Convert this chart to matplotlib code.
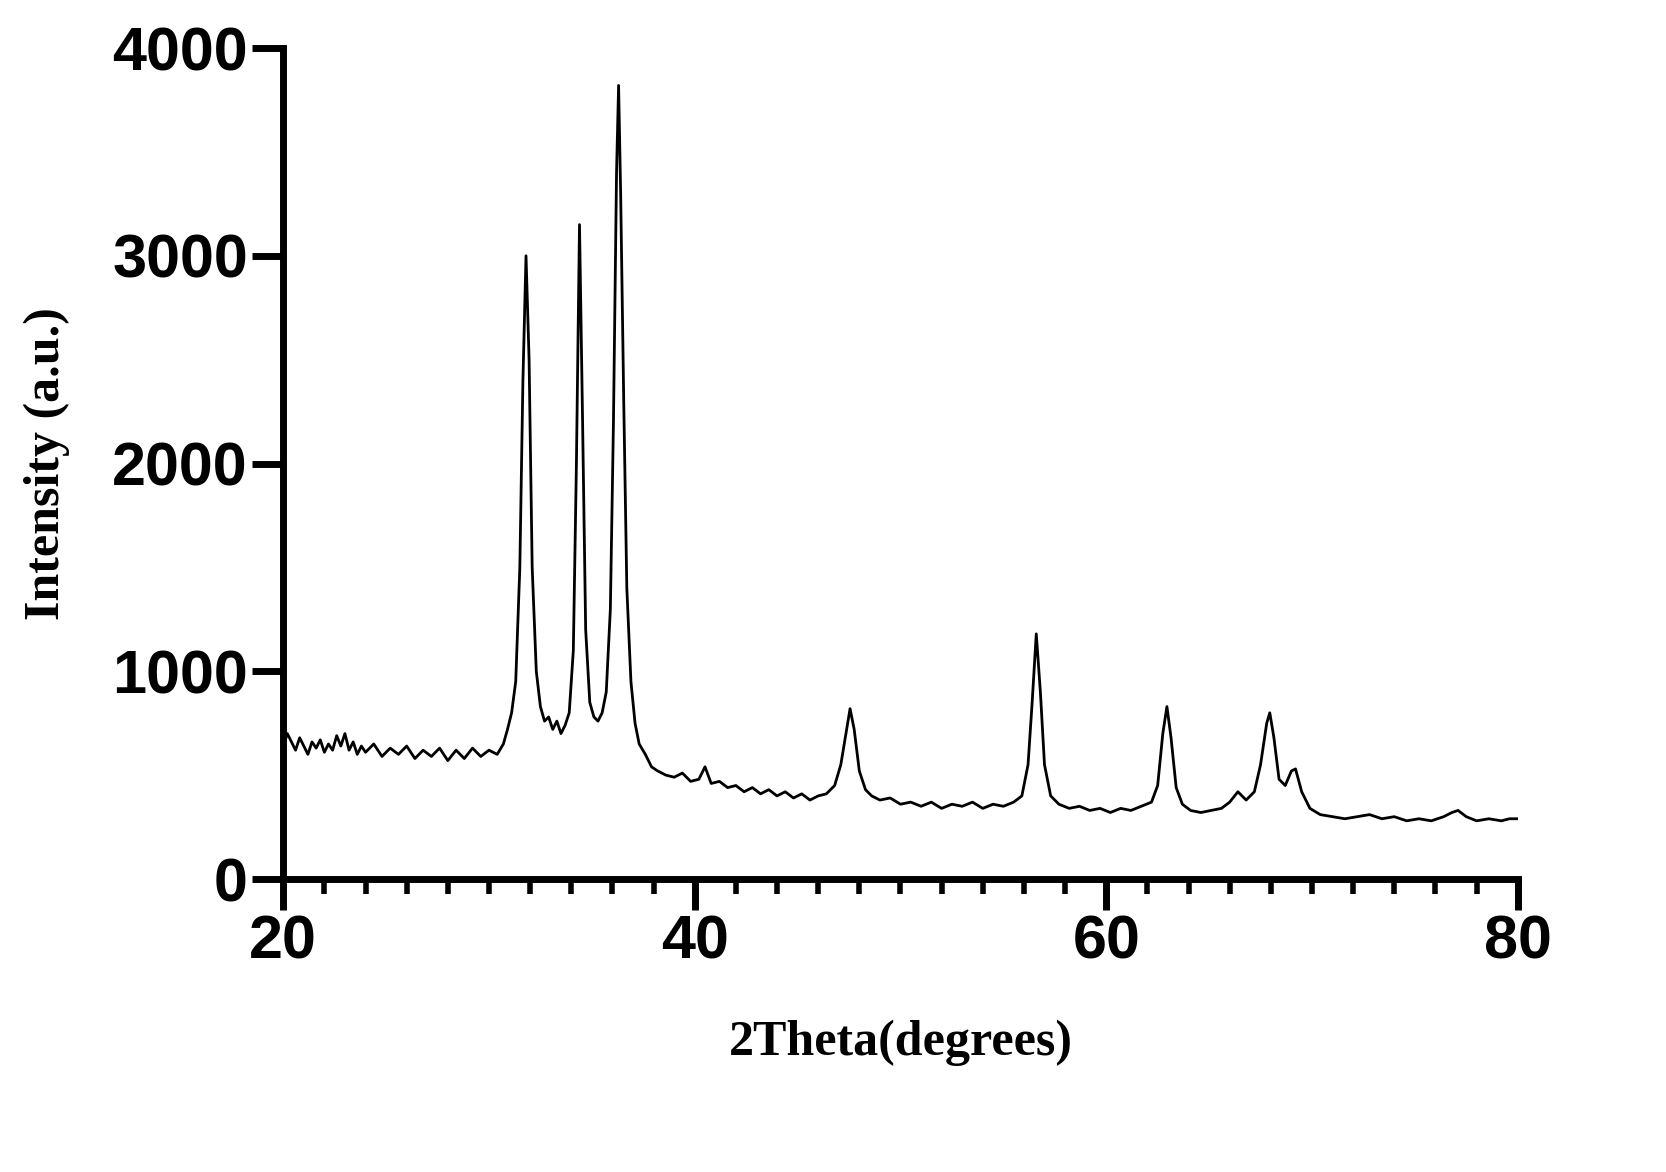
import matplotlib.pyplot as plt
from matplotlib.ticker import MultipleLocator

# XRD pattern, values
two_theta = [20.0, 20.2, 20.4, 20.6, 20.8, 21.0, 21.2, 21.4, 21.6, 21.8, 22.0, 22.2, 22.4, 22.6, 22.8,
             23.0, 23.2, 23.4, 23.6, 23.8, 24.0, 24.4, 24.8, 25.2, 25.6, 26.0, 26.4, 26.8, 27.2, 27.6,
             28.0, 28.4, 28.8, 29.2, 29.6, 30.0, 30.4, 30.7, 30.9, 31.1, 31.3, 31.5, 31.65, 31.8, 31.95,
             32.1, 32.3, 32.5, 32.7, 32.9, 33.1, 33.3, 33.5, 33.7, 33.9, 34.1, 34.25, 34.4, 34.55, 34.7,
             34.9, 35.1, 35.3, 35.5, 35.7, 35.9, 36.05, 36.2, 36.3, 36.4, 36.55, 36.7, 36.9, 37.1, 37.3,
             37.6, 37.9, 38.2, 38.6, 39.0, 39.4, 39.8, 40.2, 40.5, 40.8, 41.2, 41.6, 42.0, 42.4, 42.8,
             43.2, 43.6, 44.0, 44.4, 44.8, 45.2, 45.6, 46.0, 46.4, 46.8, 47.1, 47.35, 47.55, 47.75, 48.0,
             48.3, 48.6, 49.0, 49.5, 50.0, 50.5, 51.0, 51.5, 52.0, 52.5, 53.0, 53.5, 54.0, 54.5, 55.0,
             55.5, 55.9, 56.2, 56.4, 56.6, 56.8, 57.0, 57.3, 57.7, 58.2, 58.7, 59.2, 59.7, 60.2, 60.7,
             61.2, 61.7, 62.2, 62.5, 62.75, 62.95, 63.15, 63.4, 63.7, 64.1, 64.6, 65.1, 65.6, 66.0, 66.4,
             66.8, 67.2, 67.5, 67.8, 67.95, 68.15, 68.4, 68.7, 69.0, 69.2, 69.5, 69.9, 70.4, 71.0, 71.6,
             72.2, 72.8, 73.4, 74.0, 74.6, 75.2, 75.8, 76.4, 76.8, 77.1, 77.5, 78.0, 78.6, 79.2, 79.6, 80.0]
intensity = [640, 700, 660, 620, 680, 640, 600, 660, 630, 670, 610, 650, 620, 690, 640,
             700, 620, 660, 600, 640, 610, 650, 590, 630, 600, 640, 580, 620, 590, 630,
             570, 620, 580, 630, 590, 620, 600, 650, 720, 800, 950, 1500, 2400, 3000, 2500,
             1500, 1000, 830, 760, 780, 720, 760, 700, 740, 800, 1100, 2000, 3150, 2200, 1200,
             850, 780, 760, 800, 900, 1300, 2200, 3400, 3820, 3300, 2300, 1400, 950, 750, 650,
             600, 540, 520, 500, 490, 510, 470, 480, 540, 460, 470, 440, 450, 420, 440,
             410, 430, 400, 420, 390, 410, 380, 400, 410, 450, 550, 700, 820, 720, 520,
             430, 400, 380, 390, 360, 370, 350, 370, 340, 360, 350, 370, 340, 360, 350,
             370, 400, 550, 850, 1180, 900, 550, 400, 360, 340, 350, 330, 340, 320, 340,
             330, 350, 370, 450, 700, 830, 680, 440, 360, 330, 320, 330, 340, 370, 420,
             380, 420, 550, 750, 800, 680, 480, 450, 520, 530, 420, 340, 310, 300, 290,
             300, 310, 290, 300, 280, 290, 280, 300, 320, 330, 300, 280, 290, 280, 290, 290]

fig = plt.figure(figsize=(16.66, 11.72), dpi=100)
ax = fig.add_axes([0.170, 0.250, 0.741, 0.709])
ax.plot(two_theta, intensity, color='black', lw=2)

ax.set_xlim(20, 80)
ax.set_ylim(0, 4000)
ax.xaxis.set_major_locator(MultipleLocator(20))
ax.xaxis.set_minor_locator(MultipleLocator(2))
ax.yaxis.set_major_locator(MultipleLocator(1000))

for s in ['top', 'right']:
    ax.spines[s].set_visible(False)
for s in ['left', 'bottom']:
    ax.spines[s].set_linewidth(5)

ax.tick_params(which='major', length=22, width=5, direction='out')
ax.tick_params(which='minor', length=11, width=4, direction='out')
for lab in ax.get_xticklabels() + ax.get_yticklabels():
    lab.set_fontfamily('Liberation Sans')
    lab.set_fontweight('bold')
    lab.set_fontsize(44)

ax.set_xlabel('2Theta(degrees)', fontfamily='Liberation Serif', fontweight='bold',
              fontsize=36, labelpad=35)
ax.set_ylabel('Intensity (a.u.)', fontfamily='Liberation Serif', fontweight='bold',
              fontsize=36, labelpad=30)

fig.savefig('out.png', dpi=100)
